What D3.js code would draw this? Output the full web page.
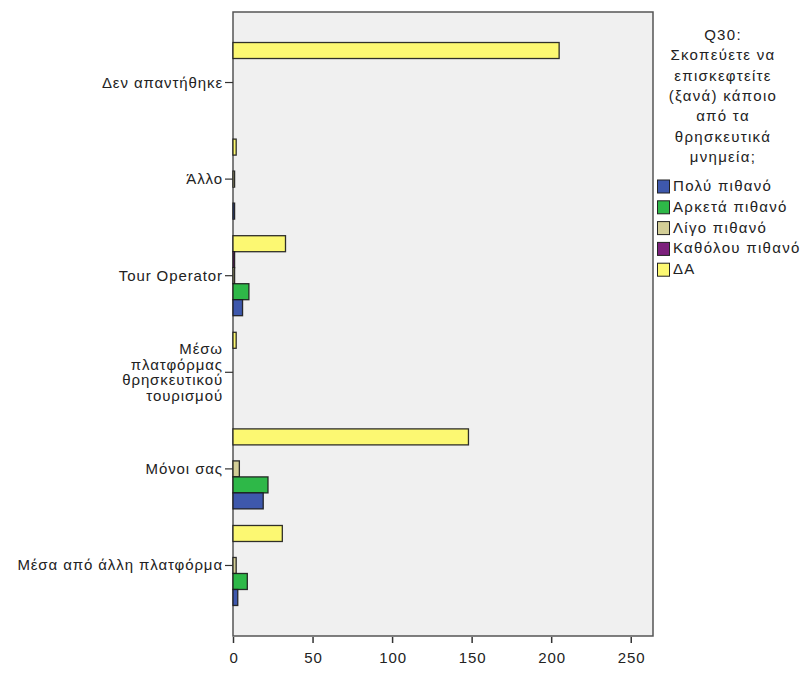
<!DOCTYPE html>
<html><head><meta charset="utf-8">
<script src="https://cdn.jsdelivr.net/npm/d3@7"></script>
<style>body{margin:0;background:#fff;} text{font-family:"Liberation Sans",Arial,sans-serif;}</style>
</head><body>
<svg id="c" width="803" height="675"></svg>
<script>
const categories = ["Δεν απαντήθηκε","Άλλο","Tour Operator","Μέσω πλατφόρμας θρησκευτικού τουρισμού","Μόνοι σας","Μέσα από άλλη πλατφόρμα"];
const categoryLines = [["Δεν απαντήθηκε"],["Άλλο"],["Tour Operator"],["Μέσω","πλατφόρμας","θρησκευτικού","τουρισμού"],["Μόνοι σας"],["Μέσα από άλλη πλατφόρμα"]];
const seriesNames = ["ΔΑ","Καθόλου πιθανό","Λίγο πιθανό","Αρκετά πιθανό","Πολύ πιθανό"];
const legendOrder = ["Πολύ πιθανό","Αρκετά πιθανό","Λίγο πιθανό","Καθόλου πιθανό","ΔΑ"];
const colors = ["#fcf872","#7c207c","#d3ce97","#2eb848","#3e58ac"];
const valsDA       = [205, 2, 33, 2, 148, 31];
const valsKatholou = [0, 0, 1, 0, 0, 0];
const valsLigo     = [0, 1, 1, 0, 4, 2];
const valsArketa   = [0, 0, 10, 0, 22, 9];
const valsPoly     = [0, 1, 6, 0, 19, 3];
const seriesValues = [valsDA, valsKatholou, valsLigo, valsArketa, valsPoly];
const xTicks = [0,50,100,150,200,250];
const legendTitle = ["Q30:","Σκοπεύετε να","επισκεφτείτε","(ξανά) κάποιο","από τα","θρησκευτικά","μνημεία;"];

const svg = d3.select("#c");
const L=233, R=653, T=12, B=636;
const x = d3.scaleLinear().domain([0,264]).range([L,R]);
const y = d3.scaleBand().domain(categories).range([T,B]).paddingOuter(0.23).paddingInner(0);
const yi = d3.scaleBand().domain(seriesNames).range([0,80]);

svg.append("rect").attr("x",L).attr("y",T).attr("width",R-L).attr("height",B-T)
  .attr("fill","#f0f0f0").attr("stroke","#555").attr("stroke-width",1.5);

categories.forEach((c,ci)=>{
  const cy = y(c)+y.bandwidth()/2;
  const g = svg.append("g");
  seriesNames.forEach((s,si)=>{
    const v = seriesValues[si][ci];
    if(v<=0) return;
    const y0 = cy-40+yi(s);
    g.append("rect").attr("x",x(0)).attr("y",y0).attr("width",x(v)-x(0)).attr("height",yi.bandwidth())
      .attr("fill",colors[si]).attr("stroke","#1a1a1a").attr("stroke-width",1.3).attr("stroke-opacity",0.9);
  });
});

// left ticks & labels
categories.forEach((c,ci)=>{
  const cy = y(c)+y.bandwidth()/2;
  svg.append("line").attr("x1",L-8).attr("x2",L).attr("y1",cy).attr("y2",cy).attr("stroke","#333").attr("stroke-width",1.2);
  const lines = categoryLines[ci];
  const lh = 15.5;
  const t = svg.append("text").attr("text-anchor","end").attr("font-size",15).attr("fill","#222")
    .style("letter-spacing","0.9px");
  lines.forEach((ln,li)=>{
    t.append("tspan").attr("x",L-10).attr("y",cy + (li-(lines.length-1)/2)*lh + 5).text(ln);
  });
});

// bottom axis
const ax = svg.append("g").attr("transform",`translate(0,${B})`)
  .call(d3.axisBottom(x).tickValues(xTicks).tickSize(7).tickSizeOuter(0));
ax.select(".domain").remove();
ax.selectAll(".tick line").attr("stroke","#333").attr("stroke-width",1.5).attr("y1",1);
ax.selectAll(".tick text").attr("font-size",15).attr("fill","#222").attr("font-family","Liberation Sans, Arial, sans-serif")
  .attr("dy","1.1em").attr("dx","0.5").style("letter-spacing","0.9px");

// legend
const lx = 723;
legendTitle.forEach((ln,i)=>{
  svg.append("text").attr("x",lx).attr("y",40+i*20.3).attr("text-anchor","middle").attr("font-size",15).attr("fill","#222")
    .style("letter-spacing","1.3px").text(ln);
});
legendOrder.forEach((s,i)=>{
  const si = seriesNames.indexOf(s);
  const yy = 180+i*20.8;
  svg.append("rect").attr("x",657.5).attr("y",yy).attr("width",12).attr("height",13)
    .attr("fill",colors[si]).attr("stroke","#222").attr("stroke-width",1);
  svg.append("text").attr("x",673).attr("y",yy+11).attr("font-size",15).attr("fill","#222")
    .style("letter-spacing","1.3px").text(s);
});
</script>
</body></html>
